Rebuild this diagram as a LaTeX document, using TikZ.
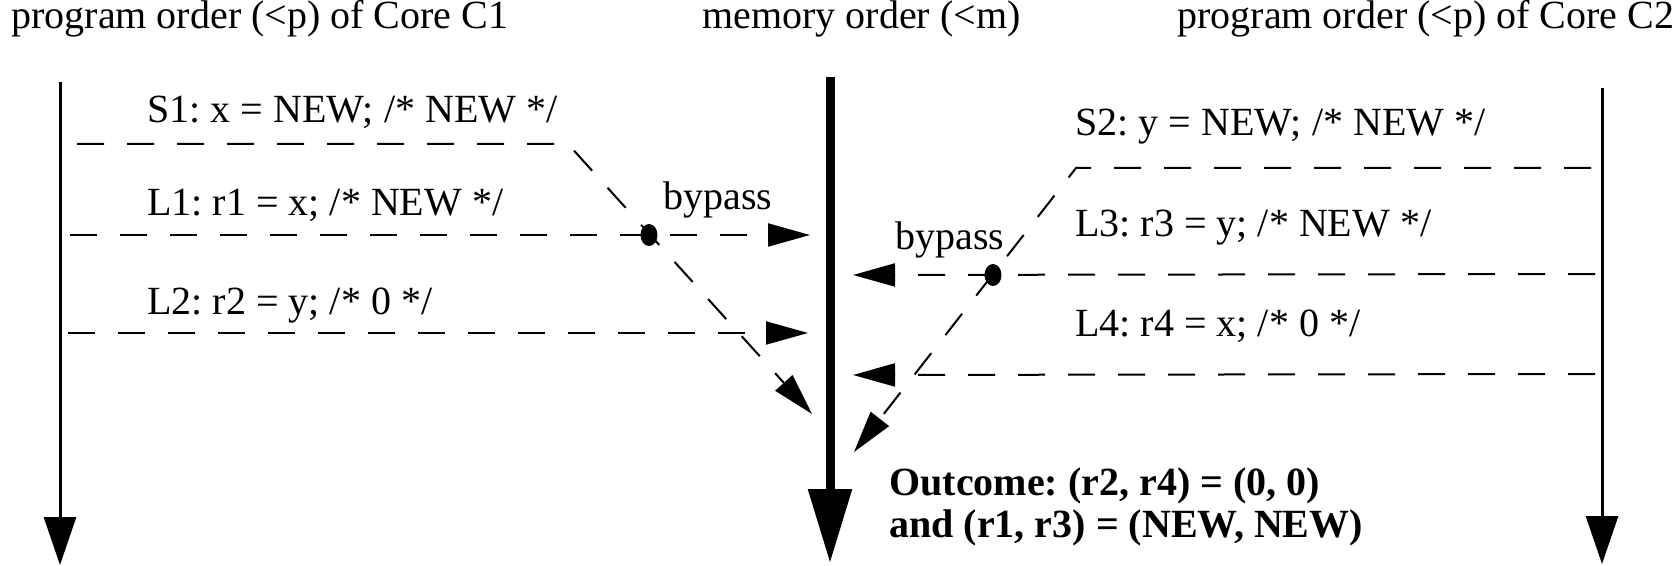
\documentclass[tikz,border=0pt]{standalone}
\usepackage{fontspec}
\setmainfont{Liberation Serif}
\usetikzlibrary{arrows.meta,shapes.geometric}
\frenchspacing
\begin{document}
\begin{tikzpicture}[x=0.5pt,y=-0.5pt,
  lbl/.style={anchor=base west,inner sep=0pt,font=\fontsize{20}{24}\selectfont},
  boldlbl/.style={lbl,font=\fontsize{20}{24}\selectfont\bfseries},
  axisline/.style={line width=1.5pt,-{Triangle[length=24pt,width=16pt]}},
  memline/.style={line width=4.5pt,-{Triangle[length=37pt,width=21pt]}},
  dline/.style={line width=1pt,dash pattern=on 13.5pt off 11.5pt,-{Triangle[length=21pt,width=11.5pt]}},
  dotmark/.style={ellipse,fill=black,inner sep=0pt,minimum width=8.5pt,minimum height=11pt}]
\useasboundingbox (0,0) rectangle (1680,566);
% titles
\node[lbl] (t1) at (11,29) {program order (<p) of Core C1};
\node[lbl] (t2) at (702,29) {memory order (<m)};
\node[lbl] (t3) at (1177,29) {program order (<p) of Core C2};
% axes
\coordinate (c1top) at (60,82);
\coordinate (c1bot) at (60,565);
\coordinate (mtop) at (830,77);
\coordinate (mbot) at (830,563);
\coordinate (c2top) at (1602,88);
\coordinate (c2bot) at (1602,564);
\draw[axisline] (c1top) -- (c1bot);
\draw[memline] (mtop) -- (mbot);
\draw[axisline] (c2top) -- (c2bot);
% core 1 labels
\node[lbl] (s1) at (147,123) {S1: x = NEW; /* NEW */};
\node[lbl] (l1) at (147,216) {L1: r1 = x; /* NEW */};
\node[lbl] (l2) at (147,315) {L2: r2 = y; /* 0 */};
\node[lbl] (bp1) at (663,210) {bypass};
% core 1 connectors
\coordinate (s1a) at (77,144);
\coordinate (s1b) at (568,144);
\coordinate (s1tip) at (812,414);
\coordinate (l1a) at (70,235);
\coordinate (l1tip) at (810,235);
\coordinate (l2a) at (68,333);
\coordinate (l2tip) at (808,333);
\draw[dline] (s1a) -- (s1b) -- (s1tip);
\draw[dline] (l1a) -- (l1tip);
\draw[dline] (l2a) -- (l2tip);
\node[dotmark] (dot1) at (649,235) {};
% core 2 labels
\node[lbl] (s2) at (1075,136) {S2: y = NEW; /* NEW */};
\node[lbl] (l3) at (1075,237) {L3: r3 = y; /* NEW */};
\node[lbl] (l4) at (1075,336) {L4: r4 = x; /* 0 */};
\node[lbl] (bp2) at (895,250) {bypass};
% core 2 connectors
\coordinate (s2a) at (1591,168);
\coordinate (s2b) at (1076,168);
\coordinate (s2tip) at (854,452);
\coordinate (l3a) at (1595,274);
\coordinate (l3tip) at (853,275);
\coordinate (l4a) at (1595,374);
\coordinate (l4tip) at (853,375);
\draw[dline] (s2a) -- (s2b) -- (s2tip);
\draw[dline] (l3a) -- (l3tip);
\draw[dline] (l4a) -- (l4tip);
\node[dotmark] (dot2) at (993,275) {};
% outcome
\node[boldlbl] (out1) at (889,495) {Outcome: (r2, r4) = (0, 0)};
\node[boldlbl] (out2) at (889,537) {and (r1, r3) = (NEW, NEW)};
\end{tikzpicture}
\end{document}
